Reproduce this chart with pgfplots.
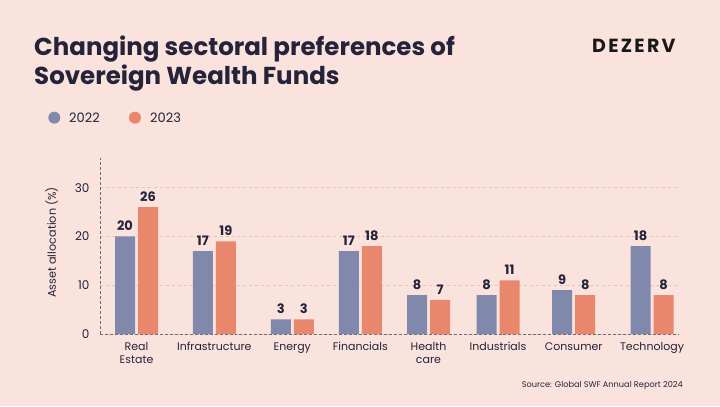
\documentclass[border=0pt]{standalone}
\usepackage{pgfplots}
\pgfplotsset{compat=1.18}
\usepackage{fontspec}
\setmainfont{Poppins}
\definecolor{bg}{HTML}{FAE3DD}
\definecolor{c22}{HTML}{8089AC}
\definecolor{c23}{HTML}{E8876C}
\definecolor{ink}{HTML}{24233A}
\definecolor{gridc}{HTML}{E6C3BA}
\definecolor{axl}{HTML}{6E6A78}
\begin{document}
\begin{tikzpicture}[x=1bp,y=1bp]
\fill[bg] (0,0) rectangle (720,406);
% title
\node[anchor=base west, inner sep=0, text=ink, font=\fontsize{24.5bp}{28bp}\selectfont\bfseries] at (34,350.3) {Changing sectoral preferences of};
\node[anchor=base west, inner sep=0, text=ink, font=\fontsize{24.5bp}{28bp}\selectfont\bfseries] at (34,321.7) {Sovereign Wealth Funds};
\node[anchor=base west, inner sep=0, text=black!90, font=\fontsize{19bp}{19bp}\selectfont\bfseries\addfontfeatures{LetterSpace=12}] at (592,353.7) {DEZERV};
% legend
\fill[c22] (54.3,288.3) circle (6);
\node[anchor=base west, inner sep=0, text=ink, font=\fontsize{13bp}{15bp}\selectfont] at (69,283.3) {2022};
\fill[c23] (135,288.3) circle (6);
\node[anchor=base west, inner sep=0, text=ink, font=\fontsize{13bp}{15bp}\selectfont] at (150,283.3) {2023};
% y label
\node[rotate=90, inner sep=0, text=ink, font=\fontsize{11.2bp}{13bp}\selectfont] at (51.7,163.5) {Asset allocation (\%)};
% source
\node[anchor=base east, inner sep=0, text=ink, font=\fontsize{8.2bp}{10bp}\selectfont] at (683,18.5) {Source: Global SWF Annual Report 2024};
\begin{axis}[
  at={(100bp,72bp)}, anchor=origin, scale only axis,
  width=578bp, height=176bp,
  xmin=0, xmax=578, ymin=0, ymax=36.1,
  ybar,
  axis x line*=bottom, axis y line*=left,
  axis line style={densely dashed, axl, line width=0.6bp, -},
  major tick length=0,
  ytick={0,10,20,30},
  xtick={36.5,114.3,192.3,260.3,328.5,398,473.7,552},
  xticklabels={{Real\\Estate},Infrastructure,Energy,Financials,{Health\\care},Industrials,Consumer,Technology},
  xticklabel style={align=center, text=ink, font=\fontsize{11bp}{12.5bp}\selectfont, yshift=-5bp},
  yticklabel style={text=ink, font=\fontsize{12bp}{14bp}\selectfont, xshift=-7bp},
  /pgf/number format/assume math mode=true,
  ymajorgrids, grid style={dashed, gridc, line width=0.6bp},
  nodes near coords,
  every node near coord/.append style={text=ink, font=\fontsize{13bp}{15bp}\selectfont\bfseries, yshift=2bp},
]
\addplot[draw=none, fill=c22, bar width=20bp, bar shift=-11.5bp] coordinates {(36.5,20) (114.3,17) (192.3,3) (260.3,17) (328.5,8) (398,8) (473.7,9) (552,18)};
\addplot[draw=none, fill=c23, bar width=20bp, bar shift=11.5bp] coordinates {(36.5,26) (114.3,19) (192.3,3) (260.3,18) (328.5,7) (398,11) (473.7,8) (552,8)};
\end{axis}
\end{tikzpicture}
\end{document}
